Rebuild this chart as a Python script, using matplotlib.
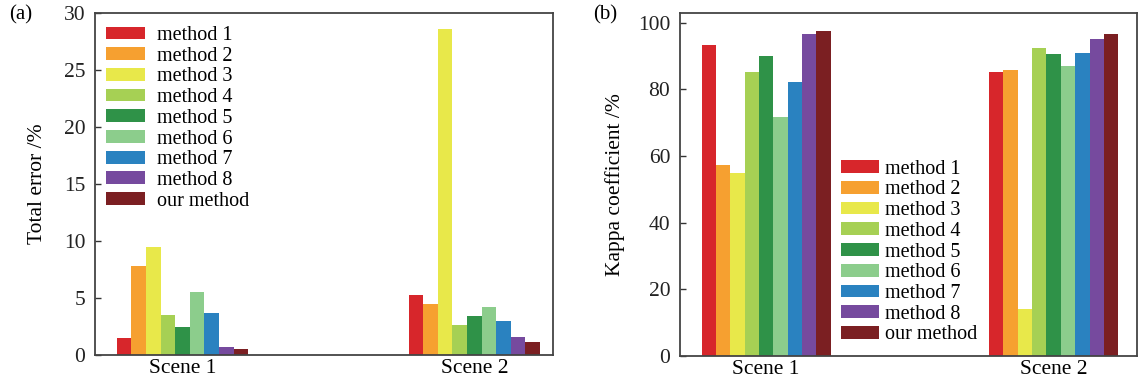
import matplotlib
matplotlib.use("Agg")
import matplotlib.pyplot as plt
import numpy as np

scenes = ["Scene 1", "Scene 2"]
methods = ["method 1", "method 2", "method 3", "method 4", "method 5",
           "method 6", "method 7", "method 8", "our method"]
colors = ["#d7262b", "#f6a030", "#e8e84a", "#a6d054", "#2f9248",
          "#8ccd8c", "#2a82c0", "#764a9e", "#7b1f22"]

total_error = [
    [1.5, 7.8, 9.5, 3.5, 2.5, 5.5, 3.7, 0.7, 0.5],
    [5.3, 4.5, 28.6, 2.6, 3.4, 4.2, 3.0, 1.6, 1.1],
]
kappa = [
    [93.5, 57.2, 54.8, 85.2, 90.1, 71.8, 82.3, 96.8, 97.6],
    [85.3, 85.8, 14.0, 92.6, 90.5, 86.9, 90.8, 95.2, 96.6],
]

plt.rcParams['font.family'] = ['Liberation Serif', 'DejaVu Serif']
plt.rcParams['font.size'] = 14

fig = plt.figure(figsize=(11.38, 3.86), dpi=100)
axa = fig.add_axes([0.0835, 0.0803, 0.4025, 0.886])
axb = fig.add_axes([0.5975, 0.0777, 0.4016, 0.889])

bw = 0.05
x = np.arange(len(scenes))

def draw(ax, data, ylim, yticks, ylabel, xlim, labelpad):
    arr = np.array(data)
    for i, m in enumerate(methods):
        off = (i - (len(methods) - 1) / 2) * bw
        ax.bar(x + off, arr[:, i], width=bw, color=colors[i], label=m,
               linewidth=0)
    ax.set_xlim(*xlim)
    ax.set_ylim(*ylim)
    ax.set_yticks(yticks)
    ax.set_xticks(x)
    ax.set_xticklabels(scenes, fontsize=15.5)
    ax.tick_params(axis='x', length=0, pad=3)
    ax.tick_params(axis='y', direction='in', length=4, width=1.0,
                   labelsize=15.5, pad=7, colors='#333333', labelcolor='#222222')
    ax.set_ylabel(ylabel, fontsize=15.5, labelpad=labelpad)
    for s in ax.spines.values():
        s.set_color('#444444')
        s.set_linewidth(1.3)

draw(axa, total_error, (0, 30), [0, 5, 10, 15, 20, 25, 30], "Total error /%",
     (-0.30, 1.27), 12)
draw(axb, kappa, (0, 103), [0, 20, 40, 60, 80, 100], "Kappa coefficient /%",
     (-0.30, 1.29), 9)

axa.legend(loc='upper left', bbox_to_anchor=(0.025, 0.962), frameon=False,
           fontsize=14.5, handlelength=1.9, handleheight=0.6, labelspacing=0.085,
           handletextpad=0.6, borderaxespad=0, borderpad=0)
axb.legend(loc='upper left', bbox_to_anchor=(0.352, 0.572), frameon=False,
           fontsize=14.5, handlelength=1.9, handleheight=0.6, labelspacing=0.085,
           handletextpad=0.3, borderaxespad=0, borderpad=0)

fig.text(0.008, 0.962, "(a)", fontsize=15, va='center', ha='left')
fig.text(0.521, 0.962, "(b)", fontsize=15, va='center', ha='left')

fig.savefig("out.png", dpi=100)
